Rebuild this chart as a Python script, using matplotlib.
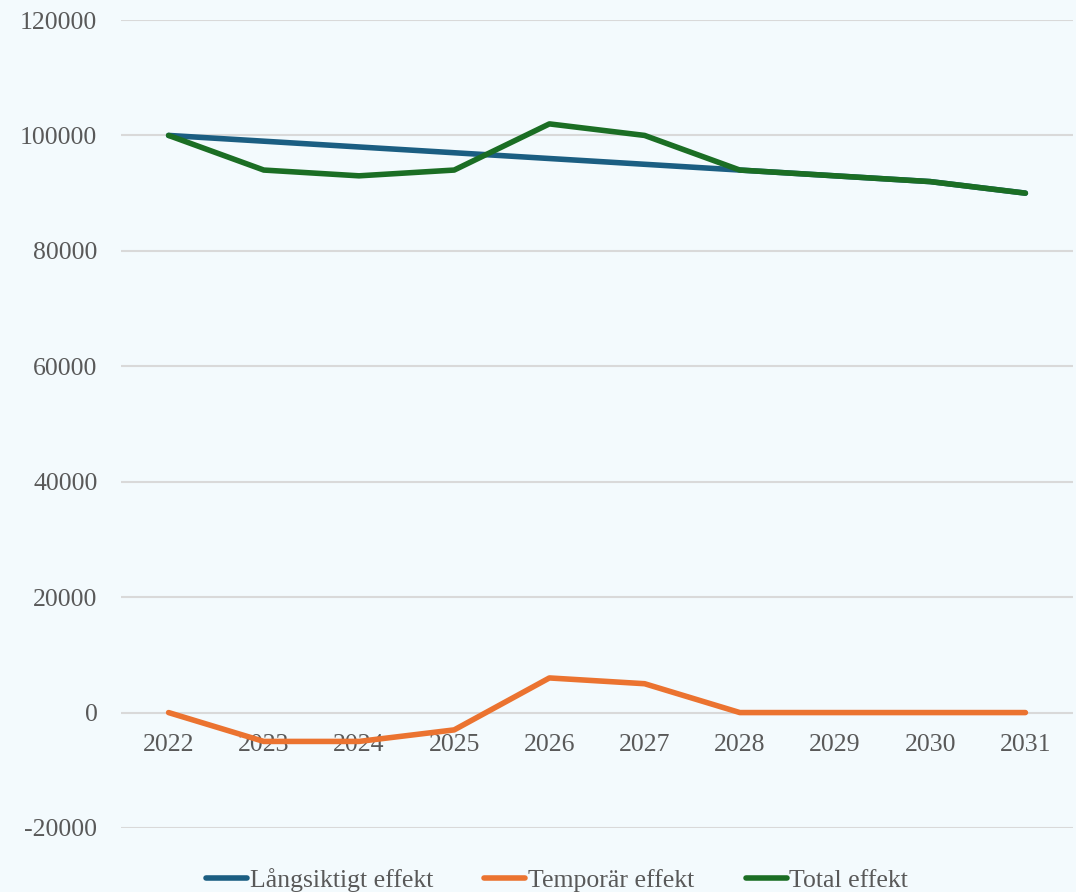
import matplotlib.pyplot as plt

years = ['2022', '2023', '2024', '2025', '2026', '2027', '2028', '2029', '2030', '2031']
langsiktigt = [100000, 99000, 98000, 97000, 96000, 95000, 94000, 93000, 92000, 90000]
temporar = [0, -5000, -5000, -3000, 6000, 5000, 0, 0, 0, 0]
total = [100000, 94000, 93000, 94000, 102000, 100000, 94000, 93000, 92000, 90000]

series_names = ['Långsiktigt effekt', 'Temporär effekt', 'Total effekt']
colors = ['#1B5E82', '#EB7330', '#1B6E24']

plt.rcParams['font.family'] = ['Liberation Serif', 'DejaVu Serif']
bg = '#F3FAFD'
txt = '#595959'

fig = plt.figure(figsize=(10.76, 8.92), dpi=100, facecolor=bg)
ax = fig.add_axes([121/1076, 1 - 828/892, (1073-121)/1076, (828-20)/892], facecolor=bg)

x = range(len(years))
for vals, name, c in zip([langsiktigt, temporar, total], series_names, colors):
    ax.plot(x, vals, color=c, lw=4, label=name, solid_capstyle='round', solid_joinstyle='round')

ax.set_xlim(-0.5, len(years) - 0.5)
ax.set_ylim(-20000, 120000)
ax.set_yticks(range(-20000, 120001, 20000))
ax.set_yticklabels([str(v) for v in range(-20000, 120001, 20000)])
ax.yaxis.grid(True, color='#D9D9D9', lw=1.5)
ax.set_axisbelow(True)
for s in ax.spines.values():
    s.set_visible(False)
ax.spines['bottom'].set_position(('data', 0))
ax.set_xticks(list(x))
ax.set_xticklabels(years)
ax.tick_params(axis='x', length=0, pad=15.5, labelsize=18.5, labelcolor=txt)
ax.tick_params(axis='y', length=0, pad=17, labelsize=18.5, labelcolor=txt)

leg = ax.legend(loc='center', bbox_to_anchor=(0.458, -0.064), ncol=3, frameon=False,
                fontsize=18.5, labelcolor=txt, handlelength=1.6, handletextpad=0.1,
                columnspacing=2.0)

fig.savefig('out.png', dpi=100, facecolor=bg)
